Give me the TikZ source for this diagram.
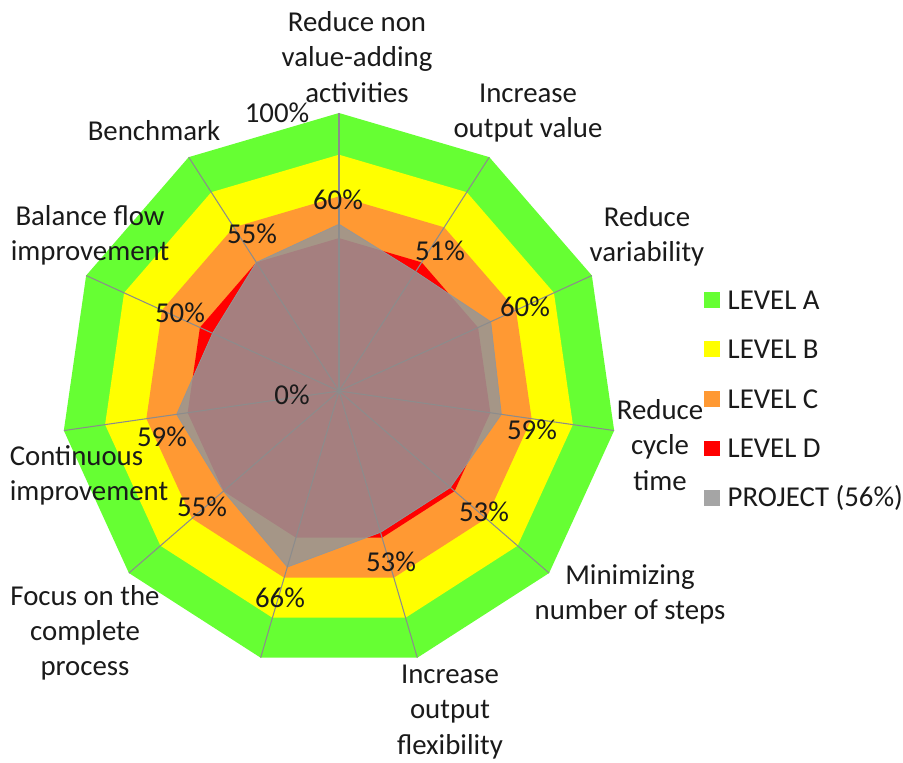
\documentclass[tikz,border=0pt]{standalone}
\usepackage{fontspec}
\setmainfont{Carlito}
\usepackage{tikz}
\usetikzlibrary{positioning}

\definecolor{levA}{HTML}{66FF33}
\definecolor{levB}{HTML}{FFFF00}
\definecolor{levC}{HTML}{FF9933}
\definecolor{levD}{HTML}{FF0000}
\definecolor{proj}{HTML}{969696}
\definecolor{projkey}{HTML}{A5A5A5}
\definecolor{spk}{HTML}{8C8C8C}
\definecolor{txt}{HTML}{1A1A1A}

\begin{document}
\begin{tikzpicture}[x=0.02cm,y=-0.02cm,
  lbl/.style={font=\fontsize{16.4}{20}\selectfont,text=txt,inner sep=0pt,align=center},
  spoke/.style={draw=spk,line width=0.6pt},
  swatch/.style={minimum size=0.32cm,inner sep=0pt}]
\useasboundingbox (0,0) rectangle (903,763);

\begin{scope}[shift={(339,391)}]
% level bands
\foreach \r/\c in {100/levA,85/levB,70/levC,55/levD}
  \fill[\c] (-90:\r*2.78) \foreach \k in {1,...,10} { -- (-90+\k*360/11:\r*2.78) } -- cycle;

% project values
\foreach \v [count=\i from 0] in {60,51,60,59,53,53,66,55,59,50,55}
  \coordinate (p\i) at (-90+\i*360/11:\v*2.78);
\path[fill=proj,fill opacity=0.85,draw=proj,line width=0.4pt]
  (p0) -- (p1) -- (p2) -- (p3) -- (p4) -- (p5) -- (p6) -- (p7) -- (p8) -- (p9) -- (p10) -- cycle;

% spokes
\coordinate (o) at (0,0);
\foreach \k in {0,...,10} {
  \coordinate (v\k) at (-90+\k*360/11:278);
  \draw[spoke] (o) -- (v\k);
}
\end{scope}

% axis values
\node[lbl] (max) at (277,113) {100\%};
\node[lbl] (min) at (292,395) {0\%};

% project values
\node[lbl] (pc0) at (338,200) {60\%};
\node[lbl] (pc1) at (440,251) {51\%};
\node[lbl] (pc2) at (525,307) {60\%};
\node[lbl] (pc3) at (532,430) {59\%};
\node[lbl] (pc4) at (484,512) {53\%};
\node[lbl] (pc5) at (391,562) {53\%};
\node[lbl] (pc6) at (280,598) {66\%};
\node[lbl] (pc7) at (202,507) {55\%};
\node[lbl] (pc8) at (162,437) {59\%};
\node[lbl] (pc9) at (180,313) {50\%};
\node[lbl] (pc10) at (252,234) {55\%};

% categories
\node[lbl] (c0) at (357,57) {Reduce non\\value-adding\\activities};
\node[lbl] (c1) at (528,113) {Increase\\output value};
\node[lbl] (c2) at (647,236) {Reduce\\variability};
\node[lbl] (c3) at (660,445) {Reduce\\cycle\\time};
\node[lbl] (c4) at (630,594) {Minimizing\\number of steps};
\node[lbl] (c5) at (450,712) {Increase\\output\\flexibility};
\node[lbl] (c7) at (85,633) {Focus on the\\complete\\process};
\node[lbl,align=left] (c8) at (89,475) {Continuous\\improvement};
\node[lbl] (c9) at (90,235) {Balance flow\\improvement};
\node[lbl] (c10) at (154,131) {Benchmark};

% legend
\foreach \c/\t [count=\i from 0] in {levA/LEVEL A,levB/LEVEL B,levC/LEVEL C,levD/LEVEL D,projkey/PROJECT (56\%)} {
  \node[swatch,fill=\c] (sw\i) at (712,300+\i*49.5) {};
  \node[lbl,right=0.14cm of sw\i] (key\i) {\t};
}

\end{tikzpicture}
\end{document}
